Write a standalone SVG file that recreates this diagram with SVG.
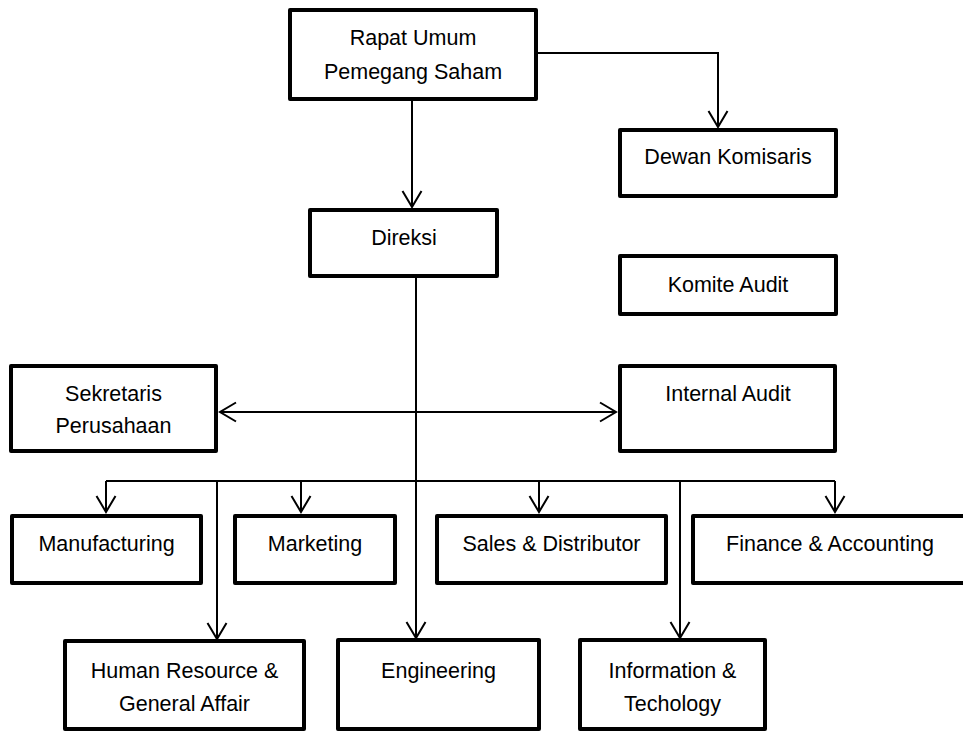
<svg xmlns="http://www.w3.org/2000/svg" width="963" height="731" viewBox="0 0 963 731">
  <style>
    .box { fill: #ffffff; stroke: #000000; stroke-width: 4; stroke-linejoin: round; }
    .lbl { font-family: "Liberation Sans", Arial, sans-serif; font-size: 21.5px; fill: #000000; text-anchor: middle; }
    .wire { fill: none; stroke: #000000; stroke-width: 2; }
    .arrow { marker-end: url(#head); }
  </style>
  <defs>
    <marker id="head" markerUnits="userSpaceOnUse" markerWidth="20" markerHeight="24" viewBox="-18 -12 20 24" refX="0" refY="0" orient="auto-start-reverse">
      <path d="M-16,-9.5 L0,0 L-16,9.5" fill="none" stroke="#000000" stroke-width="2"/>
    </marker>
  </defs>
  <rect width="963" height="731" fill="#ffffff"/>

  <!-- connectors -->
  <g id="connectors">
    <path class="wire arrow" d="M412,101 V207"/>
    <path class="wire arrow" d="M538,53 H718 V127"/>
    <path class="wire arrow" d="M416,277 V638"/>
    <path class="wire" d="M220,412 H616" marker-start="url(#head)" marker-end="url(#head)"/>
    <path class="wire" d="M106,481 H835"/>
    <path class="wire arrow" d="M106,481 V512"/>
    <path class="wire arrow" d="M301,481 V512"/>
    <path class="wire arrow" d="M539,481 V512"/>
    <path class="wire arrow" d="M835,481 V512"/>
    <path class="wire arrow" d="M217,481 V639"/>
    <path class="wire arrow" d="M680,481 V638"/>
  </g>

  <!-- nodes -->
  <g id="rups">
    <rect class="box" x="290" y="10" width="246" height="89"/>
    <text class="lbl" x="413" y="45">Rapat Umum</text>
    <text class="lbl" x="413" y="79">Pemegang Saham</text>
  </g>
  <g id="dewan-komisaris">
    <rect class="box" x="620" y="130" width="216" height="66"/>
    <text class="lbl" x="728" y="164">Dewan Komisaris</text>
  </g>
  <g id="direksi">
    <rect class="box" x="310" y="210" width="187" height="66"/>
    <text class="lbl" x="404" y="245">Direksi</text>
  </g>
  <g id="komite-audit">
    <rect class="box" x="620" y="256" width="216" height="58"/>
    <text class="lbl" x="728" y="292">Komite Audit</text>
  </g>
  <g id="sekretaris">
    <rect class="box" x="11" y="366" width="205" height="85"/>
    <text class="lbl" x="113.5" y="401">Sekretaris</text>
    <text class="lbl" x="113.5" y="433">Perusahaan</text>
  </g>
  <g id="internal-audit">
    <rect class="box" x="620" y="366" width="215" height="85"/>
    <text class="lbl" x="728" y="401">Internal Audit</text>
  </g>
  <g id="manufacturing">
    <rect class="box" x="12" y="516" width="189" height="67"/>
    <text class="lbl" x="106.5" y="551">Manufacturing</text>
  </g>
  <g id="marketing">
    <rect class="box" x="235" y="516" width="160" height="67"/>
    <text class="lbl" x="315" y="551">Marketing</text>
  </g>
  <g id="sales">
    <rect class="box" x="437" y="516" width="229" height="67"/>
    <text class="lbl" x="551.5" y="551">Sales &amp; Distributor</text>
  </g>
  <g id="finance">
    <rect class="box" x="693" y="516" width="274" height="67"/>
    <text class="lbl" x="830" y="551">Finance &amp; Accounting</text>
  </g>
  <g id="hr-ga">
    <rect class="box" x="65" y="641" width="239" height="88"/>
    <text class="lbl" x="184.5" y="678">Human Resource &amp;</text>
    <text class="lbl" x="184.5" y="711">General Affair</text>
  </g>
  <g id="engineering">
    <rect class="box" x="338" y="640" width="201" height="89"/>
    <text class="lbl" x="438.5" y="678">Engineering</text>
  </g>
  <g id="it">
    <rect class="box" x="580" y="640" width="185" height="89"/>
    <text class="lbl" x="672.5" y="678">Information &amp;</text>
    <text class="lbl" x="672.5" y="711">Techology</text>
  </g>
</svg>
